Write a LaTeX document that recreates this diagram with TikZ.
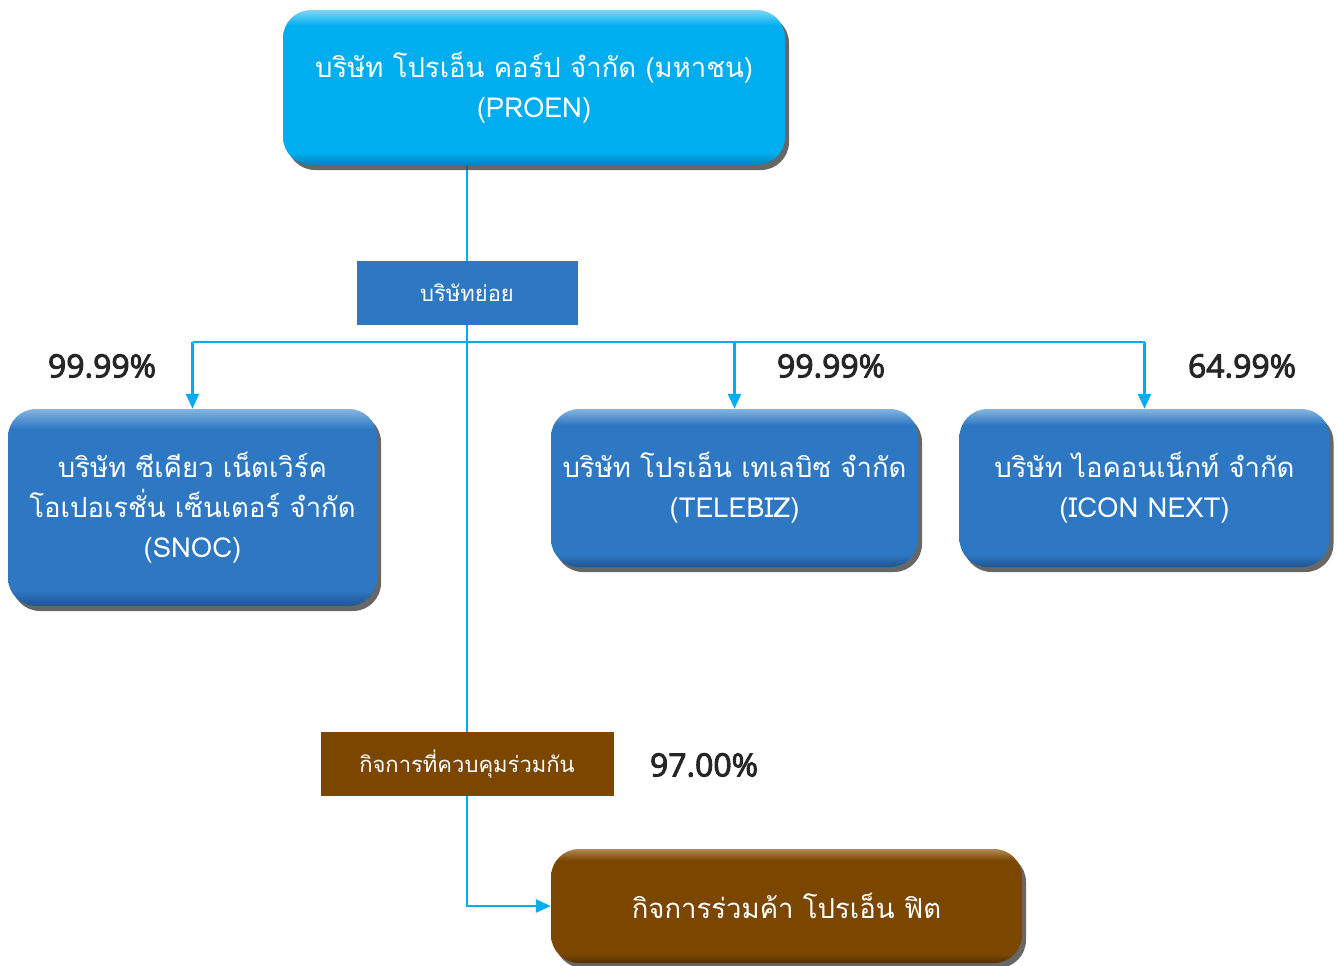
\documentclass[tikz,border=0pt]{standalone}
\usepackage{fontspec}
\setmainfont{Open Sans}
\newfontfamily\pctfont[FakeBold=3]{Open Sans}
\newfontfamily\thai[Script=Thai]{Loma}
\usetikzlibrary{shadows,arrows.meta,backgrounds}
\definecolor{cyanB}{HTML}{00AEEF}
\definecolor{cyanL}{HTML}{7FD6F7}
\definecolor{cyanD}{HTML}{0083B8}
\definecolor{blueB}{HTML}{2E78C3}
\definecolor{blueL}{HTML}{86B4E0}
\definecolor{blueD}{HTML}{1E5592}
\definecolor{brownB}{HTML}{7B4600}
\definecolor{brownL}{HTML}{B08A55}
\definecolor{brownD}{HTML}{553000}
\definecolor{lineC}{HTML}{00AEEF}
\pgfdeclareverticalshading{bevcyan}{100bp}{color(0bp)=(cyanD); color(25bp)=(cyanD); color(29bp)=(cyanB); color(70bp)=(cyanB); color(75bp)=(cyanL); color(100bp)=(cyanL)}
\pgfdeclareverticalshading{bevblue}{100bp}{color(0bp)=(blueD); color(25bp)=(blueD); color(29bp)=(blueB); color(70bp)=(blueB); color(75bp)=(blueL); color(100bp)=(blueL)}
\pgfdeclareverticalshading{bevbrown}{100bp}{color(0bp)=(brownD); color(25bp)=(brownD); color(29bp)=(brownB); color(70bp)=(brownB); color(75bp)=(brownL); color(100bp)=(brownL)}
\tikzset{
  rbox/.style={rectangle, rounded corners=28pt, text=white, align=center,
    inner sep=0pt, font=\thai\fontsize{27.5}{40}\selectfont,
    drop shadow={shadow xshift=4pt, shadow yshift=-5pt, fill=black!70, opacity=0.85}},
  flat/.style={rectangle, text=white, align=center, inner sep=0pt,
    font=\thai\fontsize{22}{26}\selectfont},
  pct/.style={font=\pctfont\fontsize{32}{36}\selectfont, text=black!85, inner sep=0pt},
  conn/.style={draw=lineC, line width=2.6pt},
  arr/.style={conn, -{Triangle[length=15pt,width=13pt]}}
}
\begin{document}
\begin{tikzpicture}[x=1pt,y=-1pt]
\useasboundingbox (0,0) rectangle (1338,966);
\node[rbox, shading=bevcyan, minimum width=502pt, minimum height=155pt] (proen) at (534,87.5)
  {บริษัท โปรเอ็น คอร์ป จำกัด (มหาชน)\\(PROEN)};
\node[flat, fill=blueB, minimum width=221pt, minimum height=64pt] (sub) at (467,293) {บริษัทย่อย};
\node[rbox, shading=bevblue, minimum width=369pt, minimum height=197pt] (snoc) at (192.5,507.5)
  {บริษัท ซีเคียว เน็ตเวิร์ค\\โอเปอเรชั่น เซ็นเตอร์ จำกัด\\(SNOC)};
\node[rbox, shading=bevblue, minimum width=367pt, minimum height=158pt] (telebiz) at (734.5,488)
  {บริษัท โปรเอ็น เทเลบิซ จำกัด\\(TELEBIZ)};
\node[rbox, shading=bevblue, minimum width=370pt, minimum height=158pt] (icon) at (1144.5,488)
  {บริษัท ไอคอนเน็กท์ จำกัด\\(ICON NEXT)};
\node[flat, fill=brownB, minimum width=293pt, minimum height=64pt] (joint) at (467,764) {กิจการที่ควบคุมร่วมกัน};
\node[rbox, shading=bevbrown, minimum width=471pt, minimum height=114pt] (jv) at (786.5,906)
  {กิจการร่วมค้า โปรเอ็น ฟิต};
\node[pct] (p1) at (102,366) {99.99\%};
\node[pct] (p2) at (831,366) {99.99\%};
\node[pct] (p3) at (1242,366) {64.99\%};
\node[pct] (p4) at (704,765) {97.00\%};
\coordinate (busL) at (snoc.north |- 0,342);
\coordinate (busR) at (icon.north |- 0,342);
\begin{pgfonlayer}{background}
\draw[conn] (proen.south -| sub) -- (joint.north);
\draw[conn] (busL) -- (busR);
\draw[arr] (busL) -- (snoc.north);
\draw[arr] (telebiz.north |- busL) -- (telebiz.north);
\draw[arr] (busR) -- (icon.north);
\draw[arr] (joint.south) |- (jv.west);
\end{pgfonlayer}
\end{tikzpicture}
\end{document}
